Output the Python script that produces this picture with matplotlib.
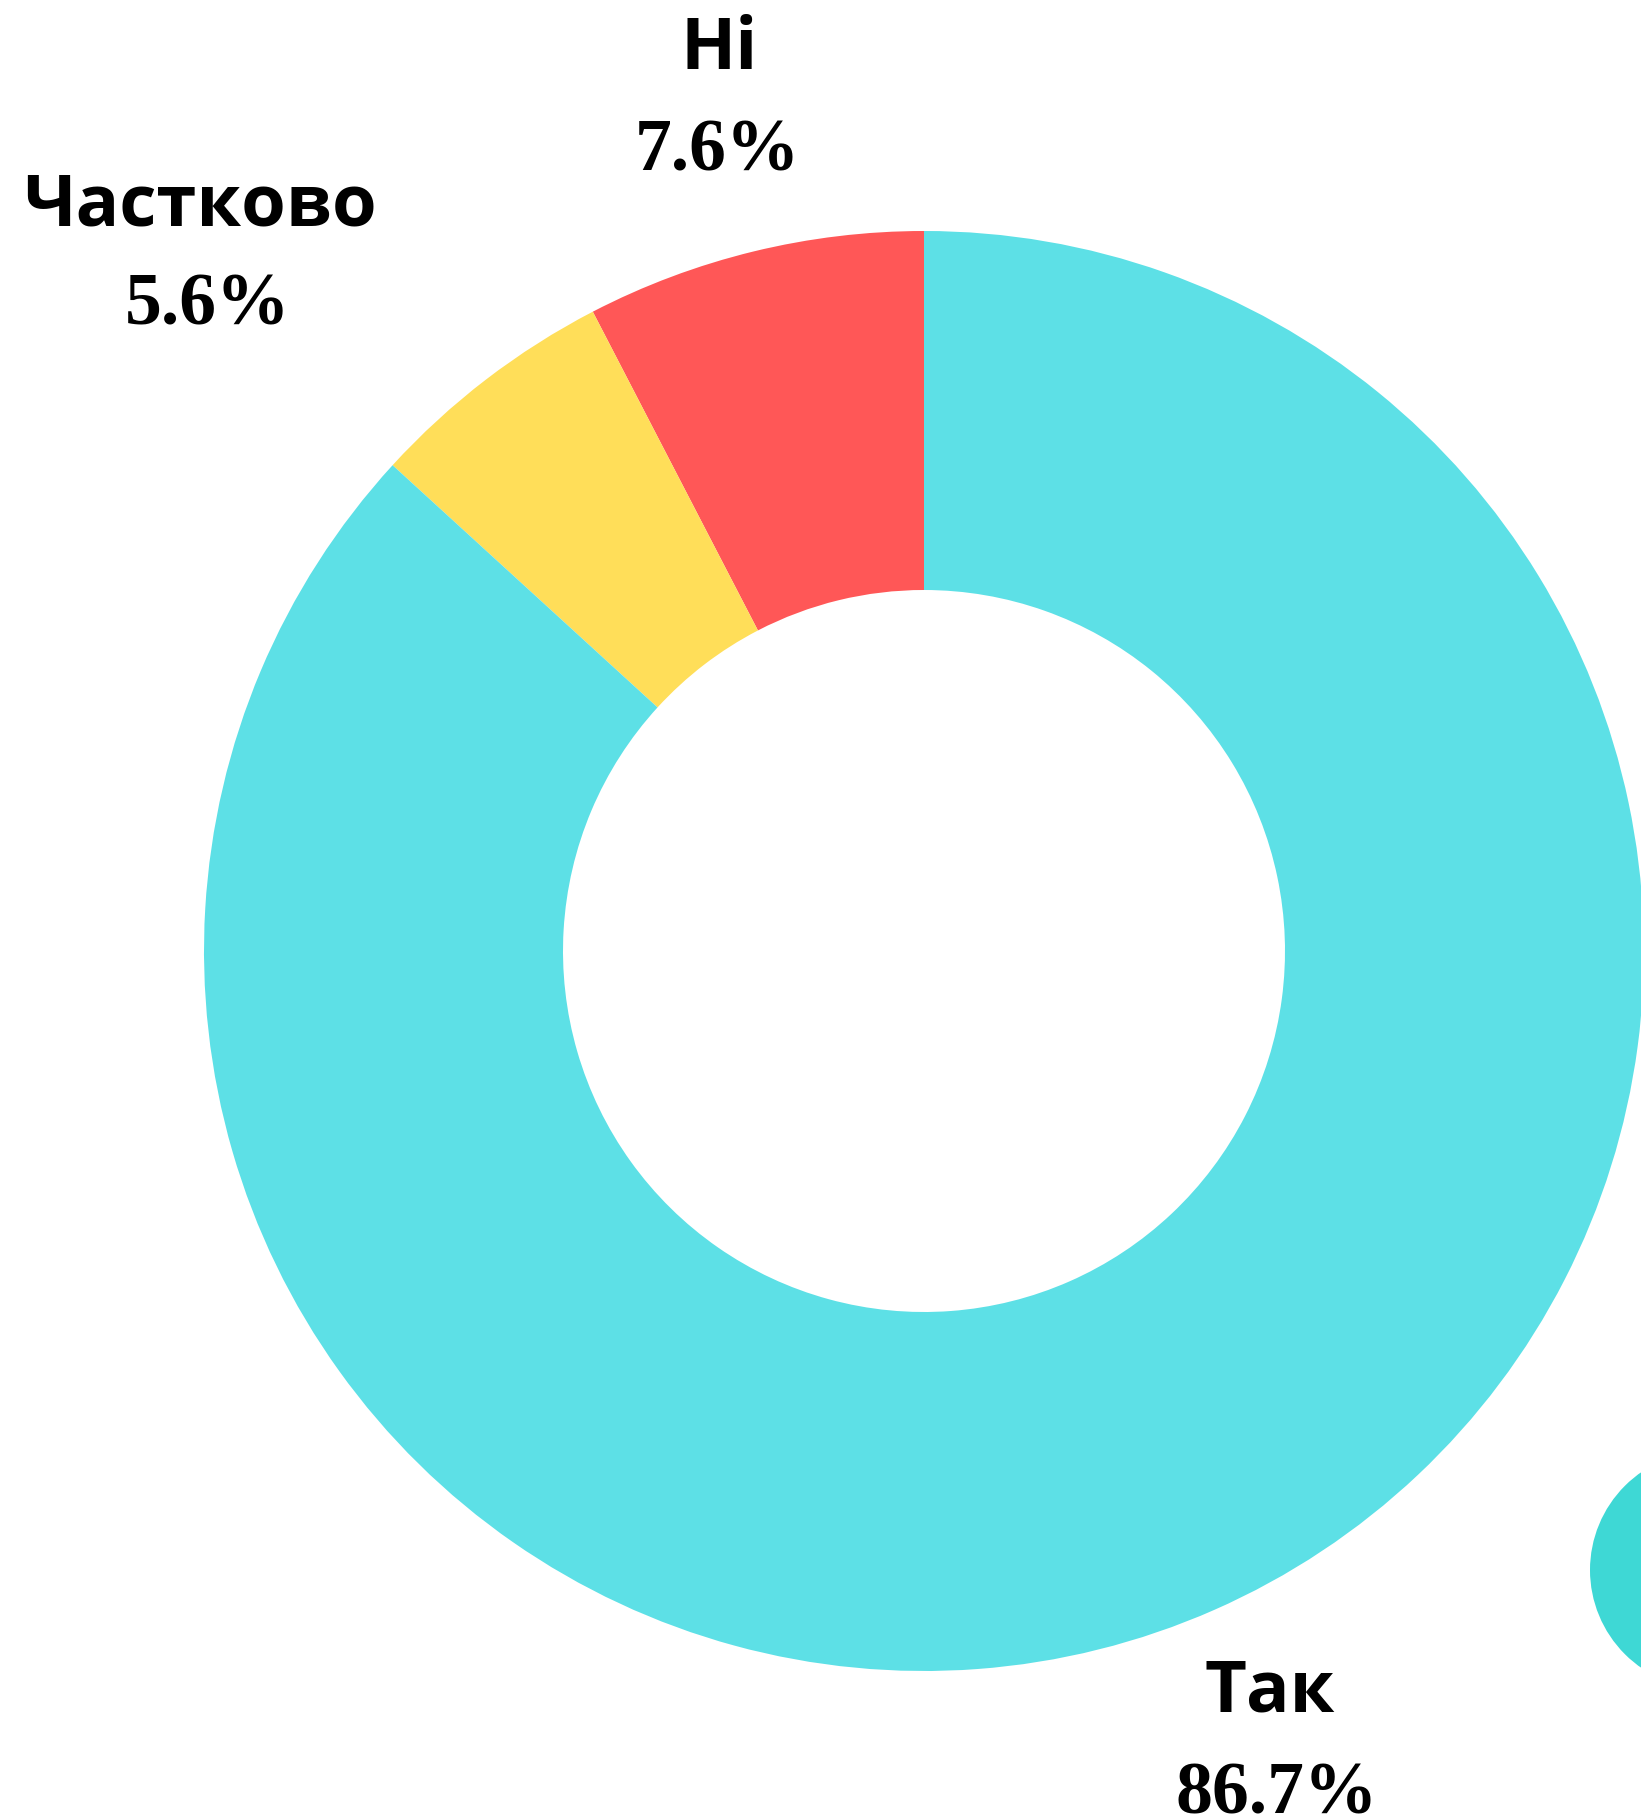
import matplotlib
matplotlib.use("Agg")
import matplotlib.pyplot as plt
from matplotlib.patches import Circle

# Дані діаграми
categories = ["Ні", "Частково", "Так"]
shares = [7.6, 5.6, 86.7]
colors = ["#FF5757", "#FFDE59", "#5DE0E6"]

W, H = 1641, 1819
fig = plt.figure(figsize=(W / 100, H / 100), dpi=100)
ax = fig.add_axes([0, 0, 1, 1])

# Кільце: центр і радіус у пікселях полотна
cx, cy, r = 924, H - 951, 720
ax.pie(shares, colors=colors, startangle=90, counterclock=True,
       center=(cx, cy), radius=r,
       wedgeprops=dict(width=359, linewidth=0))

# Декоративне коло праворуч (обрізане краєм)
ax.add_patch(Circle((1709, H - 1570), 119, color="#3ED8D5", lw=0))

# Підписи: (x назви, y назви, x відсотка, y відсотка)
label_pos = [(719, 50, 717, 152), (200, 206, 208, 306), (1270, 1693, 1277, 1795)]
for name, val, (x1, y1, x2, y2) in zip(categories, shares, label_pos):
    ax.text(x1, H - y1, name, ha="center", va="center",
            fontsize=52, fontweight="bold", family="Open Sans")
    ax.text(x2, H - y2, f"{val}%", ha="center", va="center",
            fontsize=53, fontweight="bold", family="Liberation Serif")

ax.set_xlim(0, W)
ax.set_ylim(0, H)
ax.set_aspect("equal")
ax.axis("off")

fig.savefig("out.png", dpi=100, facecolor="white")
